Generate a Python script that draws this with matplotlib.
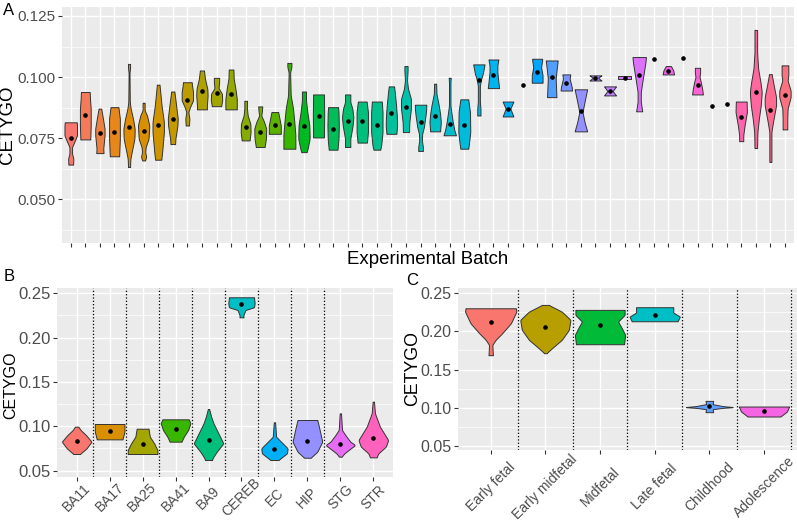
import numpy as np
import matplotlib
matplotlib.use("Agg")
import matplotlib.pyplot as plt

plt.rcParams['font.family'] = ['Liberation Sans', 'DejaVu Sans']

# ---------------- Panel A: experimental batches (50) ----------------
a_medians = [0.0752, 0.0843, 0.0771, 0.0774, 0.0794, 0.0779, 0.0805, 0.0827, 0.0906, 0.0943,
             0.0936, 0.0929, 0.0796, 0.0774, 0.0802, 0.0808, 0.0801, 0.0839, 0.0789, 0.0819,
             0.0820, 0.0802, 0.0853, 0.0879, 0.0815, 0.0842, 0.0808, 0.0804, 0.0990, 0.1008,
             0.0871, 0.0969, 0.1020, 0.1000, 0.0974, 0.0862, 0.0997, 0.0943, 0.0997, 0.1007,
             0.1075, 0.1023, 0.1080, 0.0969, 0.0881, 0.0890, 0.0836, 0.0941, 0.0865, 0.0925]

a_levels = [
    [0.0642, 0.0666, 0.0687, 0.0714, 0.0748, 0.0762, 0.0802, 0.0815],
    [0.0745, 0.0802, 0.0871, 0.0911, 0.0939],
    [0.0689, 0.0707, 0.0762, 0.0789, 0.0830, 0.0871],
    [0.0676, 0.0748, 0.0830, 0.0877],
    [0.0632, 0.0666, 0.0693, 0.0748, 0.0789, 0.0830, 0.0871, 0.0898, 0.1020, 0.1034, 0.1054],
    [0.0659, 0.0673, 0.0693, 0.0714, 0.0748, 0.0802, 0.0843, 0.0864, 0.0895],
    [0.0662, 0.0693, 0.0775, 0.0816, 0.0884, 0.0939, 0.0969],
    [0.0726, 0.0748, 0.0802, 0.0830, 0.0884, 0.0941],
    [0.0802, 0.0830, 0.0857, 0.0877, 0.0905, 0.0939, 0.0966, 0.0979],
    [0.0868, 0.0884, 0.0925, 0.0952, 0.0993, 0.1027],
    [0.0881, 0.0905, 0.0932, 0.0955, 0.0979, 0.0997],
    [0.0868, 0.0911, 0.0952, 0.0993, 0.1031],
    [0.0741, 0.0775, 0.0809, 0.0843, 0.0871, 0.0903],
    [0.0714, 0.0748, 0.0789, 0.0816, 0.0843, 0.0857, 0.0880],
    [0.0768, 0.0802, 0.0830, 0.0857],
    [0.0707, 0.0762, 0.0816, 0.0871, 0.0925, 0.1020, 0.1041, 0.1058],
    [0.0693, 0.0707, 0.0748, 0.0802, 0.0857, 0.0905, 0.0941],
    [0.0753, 0.0843, 0.0929],
    [0.0703, 0.0748, 0.0802, 0.0857, 0.0877],
    [0.0714, 0.0748, 0.0802, 0.0836, 0.0871, 0.0898, 0.0929],
    [0.0732, 0.0775, 0.0857, 0.0900],
    [0.0703, 0.0721, 0.0775, 0.0857, 0.0900],
    [0.0768, 0.0802, 0.0843, 0.0884, 0.0939, 0.0962],
    [0.0775, 0.0816, 0.0871, 0.0911, 0.0952, 0.0986, 0.1027, 0.1045],
    [0.0698, 0.0714, 0.0741, 0.0768, 0.0796, 0.0843, 0.0871, 0.0887],
    [0.0778, 0.0816, 0.0850, 0.0884, 0.0932, 0.0973],
    [0.0762, 0.0782, 0.0816, 0.0857, 0.0884, 0.0979, 0.0997],
    [0.0707, 0.0728, 0.0775, 0.0857, 0.0909],
    [0.0843, 0.0871, 0.0898, 0.0966, 0.0993, 0.1014, 0.1052],
    [0.0955, 0.0979, 0.1020, 0.1048, 0.1072],
    [0.0839, 0.0871, 0.0900],
    [],
    [0.0977, 0.1007, 0.1041, 0.1068, 0.1075],
    [0.0918, 0.0952, 0.0993, 0.1034, 0.1068],
    [0.0945, 0.0959, 0.0993, 0.1011],
    [0.0778, 0.0816, 0.0857, 0.0905, 0.0950],
    [0.0986, 0.0997, 0.1007],
    [0.0925, 0.0943, 0.0962],
    [0.0993, 0.1003],
    [0.0860, 0.0898, 0.0939, 0.0979, 0.1020, 0.1061, 0.1082],
    [],
    [0.1011, 0.1027, 0.1045],
    [],
    [0.0929, 0.0952, 0.0979, 0.1000, 0.1020, 0.1038],
    [],
    [],
    [0.0738, 0.0762, 0.0802, 0.0857, 0.0900],
    [0.0710, 0.0775, 0.0830, 0.0884, 0.0939, 0.0979, 0.1034, 0.1102, 0.1193],
    [0.0653, 0.0775, 0.0816, 0.0884, 0.0918, 0.0966, 0.1012],
    [0.0786, 0.0830, 0.0871, 0.0918, 0.0945, 0.0986, 0.1007, 0.1048],
]

a_widths = [
    [.16, .18, .09, .09, .34, .43, .43, .41],
    [.34, .37, .37, .32, .30],
    [.25, .23, .32, .32, .21, .09],
    [.32, .37, .37, .27],
    [.07, .09, .18, .37, .39, .27, .11, .05, .03, .07, .07],
    [.09, .18, .11, .14, .34, .39, .23, .07, .07],
    [.21, .27, .39, .39, .23, .14, .09],
    [.16, .18, .32, .34, .23, .11],
    [.11, .14, .07, .18, .39, .39, .32, .30],
    [.34, .34, .39, .37, .21, .14],
    [.32, .39, .37, .14, .18, .18],
    [.39, .39, .30, .18, .16],
    [.27, .34, .32, .14, .09, .09],
    [.30, .39, .41, .27, .07, .11, .14],
    [.41, .41, .32, .23],
    [.41, .41, .34, .25, .09, .05, .14, .14],
    [.18, .25, .39, .37, .23, .14, .14],
    [.37, .39, .37],
    [.30, .37, .39, .37, .34],
    [.18, .18, .34, .39, .32, .18, .18],
    [.32, .39, .39, .30],
    [.23, .30, .39, .39, .34],
    [.34, .39, .37, .32, .23, .18],
    [.21, .23, .34, .34, .14, .07, .11, .11],
    [.16, .16, .09, .11, .23, .34, .39, .39],
    [.34, .39, .34, .25, .09, .07],
    [.43, .32, .21, .11, .05, .05, .07],
    [.27, .32, .41, .39, .27],
    [.11, .11, .07, .07, .16, .27, .39],
    [.39, .34, .27, .27, .34],
    [.37, .16, .37],
    [],
    [.37, .37, .27, .34, .34],
    [.32, .30, .27, .34, .41],
    [.39, .37, .23, .27],
    [.43, .25, .11, .27, .43],
    [.41, .18, .41],
    [.41, .18, .41],
    [.45, .45],
    [.21, .11, .11, .21, .32, .43, .46],
    [],
    [.39, .34, .18],
    [],
    [.37, .32, .23, .14, .18, .18],
    [],
    [],
    [.14, .14, .23, .39, .37],
    [.09, .11, .21, .34, .41, .32, .16, .09, .09],
    [.07, .07, .18, .39, .39, .23, .09],
    [.16, .16, .18, .39, .39, .18, .23, .23],
]
a_yticks = [0.050, 0.075, 0.100, 0.125]
a_yticklabels = ['0.050', '0.075', '0.100', '0.125']

# ---------------- Panel B: brain regions ----------------
b_cats = ['BA11', 'BA17', 'BA25', 'BA41', 'BA9', 'CEREB', 'EC', 'HIP', 'STG', 'STR']
b_medians = [0.0831, 0.0947, 0.0804, 0.0970, 0.0846, 0.2383, 0.0744, 0.0838, 0.0804, 0.0864]
b_levels = [
    [0.0688, 0.0752, 0.0827, 0.0902, 0.0958, 0.0996],
    [0.0853, 0.0883, 0.0940, 0.1026],
    [0.0688, 0.0733, 0.0808, 0.0883, 0.0973],
    [0.0827, 0.0883, 0.0958, 0.1034, 0.1079],
    [0.0620, 0.0658, 0.0714, 0.0808, 0.0921, 0.1034, 0.1109, 0.1195],
    [0.2229, 0.2256, 0.2312, 0.2342, 0.2387, 0.2455],
    [0.0620, 0.0658, 0.0695, 0.0752, 0.0827, 0.0883, 0.1045],
    [0.0646, 0.0714, 0.0827, 0.0996, 0.1071],
    [0.0658, 0.0695, 0.0733, 0.0789, 0.0827, 0.0902, 0.0958, 0.1146],
    [0.0650, 0.0695, 0.0771, 0.0846, 0.0996, 0.1146, 0.1278],
]
b_widths = [
    [.10, .30, .45, .28, .12, .05],
    [.39, .41, .45, .45],
    [.45, .45, .35, .22, .18],
    [.18, .25, .38, .45, .40],
    [.10, .15, .25, .45, .30, .15, .08, .02],
    [.06, .06, .12, .38, .40, .38],
    [.12, .25, .38, .40, .20, .05, .02],
    [.10, .30, .45, .35, .30],
    [.04, .12, .25, .45, .30, .15, .05, .02],
    [.10, .15, .38, .45, .20, .05, .02],
]
b_yticks = [0.05, 0.10, 0.15, 0.20, 0.25]

# ---------------- Panel C: developmental stage ----------------
c_cats = ['Early fetal', 'Early midfetal', 'Midfetal', 'Late fetal', 'Childhood', 'Adolescence']
c_medians = [0.2120, 0.2059, 0.2090, 0.2212, 0.1024, 0.0958]
c_levels = [
    [0.1688, 0.1823, 0.1889, 0.1976, 0.2107, 0.2260, 0.2303],
    [0.1714, 0.1779, 0.1889, 0.2020, 0.2151, 0.2260, 0.2347],
    [0.1832, 0.1954, 0.2041, 0.2129, 0.2216, 0.2282],
    [0.2133, 0.2194, 0.2247, 0.2317],
    [0.0941, 0.0980, 0.0998, 0.1007, 0.1020, 0.1046, 0.1089],
    [0.0884, 0.0950, 0.1015],
]
c_widths = [
    [.04, .03, .09, .21, .37, .47, .46],
    [.02, .12, .30, .43, .46, .30, .06],
    [.44, .46, .40, .33, .45, .45],
    [.42, .46, .34, .34],
    [.07, .06, .25, .46, .25, .06, .07],
    [.30, .42, .46],
]
c_yticks = [0.05, 0.10, 0.15, 0.20, 0.25]


# ---------------- helpers ----------------
def hcl(h, c=100.0, l=65.0):
    hr = np.deg2rad(h)
    U, V = c * np.cos(hr), c * np.sin(hr)
    Xn, Yn, Zn = 95.047, 100.0, 108.883
    Y = Yn * ((l + 16) / 116) ** 3 if l > 8 else Yn * l / 903.3
    t = Xn + 15 * Yn + 3 * Zn
    un, vn = 4 * Xn / t, 9 * Yn / t
    u = U / (13 * l) + un
    v = V / (13 * l) + vn
    X = 9.0 * Y * u / (4 * v)
    Z = -X / 3 - 5 * Y + 3 * Y / v
    X, Y, Z = X / 100, Y / 100, Z / 100
    r = 3.240479 * X - 1.537150 * Y - 0.498535 * Z
    g = -0.969256 * X + 1.875992 * Y + 0.041556 * Z
    b = 0.055648 * X - 0.204043 * Y + 1.057311 * Z

    def gam(x):
        x = min(max(x, 0.0), 1.0)
        return 1.055 * x ** (1 / 2.4) - 0.055 if x > 0.0031308 else 12.92 * x
    return (gam(r), gam(g), gam(b))


def hue_pal(n):
    return [hcl(15 + 360.0 * i / n) for i in range(n)]


def violin(ax, x, levels, widths, med, color):
    if len(levels) > 0:
        lv = np.asarray(levels, float)
        wd = np.asarray(widths, float)
        yy = np.linspace(lv.min(), lv.max(), 200)
        ww = np.interp(yy, lv, wd)
        k = 9
        pad = np.pad(ww, k // 2, mode='edge')
        ww = np.convolve(pad, np.ones(k) / k, mode='valid')
        ax.fill_betweenx(yy, x - ww, x + ww, facecolor=color, edgecolor='#333333',
                         linewidth=0.7, zorder=3)
    ax.plot([x], [med], 'o', color='black', ms=2.3, zorder=4)


def style(ax, xlim, ylim, yticks, yticklabels, minor, labelsize):
    ax.set_facecolor('#EBEBEB')
    for s in ax.spines.values():
        s.set_visible(False)
    ax.set_xlim(*xlim)
    ax.set_ylim(*ylim)
    ax.set_yticks(yticks)
    ax.set_yticklabels(yticklabels)
    ax.set_yticks(minor, minor=True)
    ax.grid(True, which='major', color='white', linewidth=1.0, zorder=0)
    ax.grid(True, which='minor', axis='y', color='white', linewidth=0.5, zorder=0)
    ax.set_axisbelow(True)
    ax.tick_params(which='major', length=3, width=0.8, color='#333333',
                   labelcolor='#4D4D4D', labelsize=labelsize, pad=1.5)
    ax.tick_params(which='minor', length=0)


W, H = 797, 525
fig = plt.figure(figsize=(W / 100, H / 100), dpi=100)


def box(l, t, r, b):
    return [l / W, 1 - b / H, (r - l) / W, (b - t) / H]


# ---- Panel A ----
axA = fig.add_axes(box(62, 6.7, 793.7, 243.3))
colA = hue_pal(len(a_medians))
for i in range(len(a_medians)):
    violin(axA, i + 1, a_levels[i], a_widths[i], a_medians[i], colA[i])
style(axA, (0.4, len(a_medians) + 0.6), (0.0320, 0.1288), a_yticks, a_yticklabels,
      [0.0375, 0.0625, 0.0875, 0.1125], 11)
axA.set_xticks(np.arange(1, len(a_medians) + 1))
axA.set_xticklabels([])

# ---- Panel B ----
axB = fig.add_axes(box(56.9, 287.7, 393.1, 476.7))
colB = hue_pal(len(b_cats))
for i in range(len(b_cats)):
    violin(axB, i + 1, b_levels[i], b_widths[i], b_medians[i], colB[i])
style(axB, (0.4, len(b_cats) + 0.6), (0.0432, 0.2563), b_yticks,
      ['%.2f' % v for v in b_yticks], [0.075, 0.125, 0.175, 0.225], 12)
axB.set_xticks(np.arange(1, len(b_cats) + 1))
axB.set_xticklabels(b_cats, rotation=45, ha='center', va='center', rotation_mode='anchor',
                    fontsize=10)
axB.tick_params(axis='x', pad=12.0)
for xv in np.arange(1.5, len(b_cats) - 1 + 0.5, 1.0):
    axB.axvline(xv, color='black', linestyle=':', linewidth=0.9, zorder=2)

# ---- Panel C ----
axC = fig.add_axes(box(457.9, 288.3, 796.8, 450))
colC = hue_pal(len(c_cats))
for i in range(len(c_cats)):
    violin(axC, i + 1, c_levels[i], c_widths[i], c_medians[i], colC[i])
style(axC, (0.4, len(c_cats) + 0.6), (0.0445, 0.2565), c_yticks,
      ['%.2f' % v for v in c_yticks], [0.075, 0.125, 0.175, 0.225], 11.5)
axC.set_xticks(np.arange(1, len(c_cats) + 1))
axC.set_xticklabels(c_cats, rotation=45, ha='center', va='center', rotation_mode='anchor',
                    fontsize=10)
axC.tick_params(axis='x', pad=23.5)
for xv in np.arange(1.5, len(c_cats) + 1.0, 1.0):
    axC.axvline(xv, color='black', linestyle=':', linewidth=0.9, zorder=2)

# ---- texts ----
fig.text(3 / W, 1 - 3 / H, 'A', fontsize=12, ha='left', va='top')
fig.text(4 / W, 1 - 269 / H, 'B', fontsize=12, ha='left', va='top')
fig.text(406 / W, 1 - 273 / H, 'C', fontsize=12, ha='left', va='top')
fig.text(427.9 / W, 1 - 259 / H, 'Experimental Batch', fontsize=13.4, ha='center', va='center')
fig.text(8 / W, 1 - 125 / H, 'CETYGO', fontsize=13.4, rotation=90, ha='center', va='center')
fig.text(11 / W, 1 - 385 / H, 'CETYGO', fontsize=11.5, rotation=90, ha='center', va='center')
fig.text(413 / W, 1 - 369 / H, 'CETYGO', fontsize=12.8, rotation=90, ha='center', va='center')

fig.savefig('out.png', dpi=100)
